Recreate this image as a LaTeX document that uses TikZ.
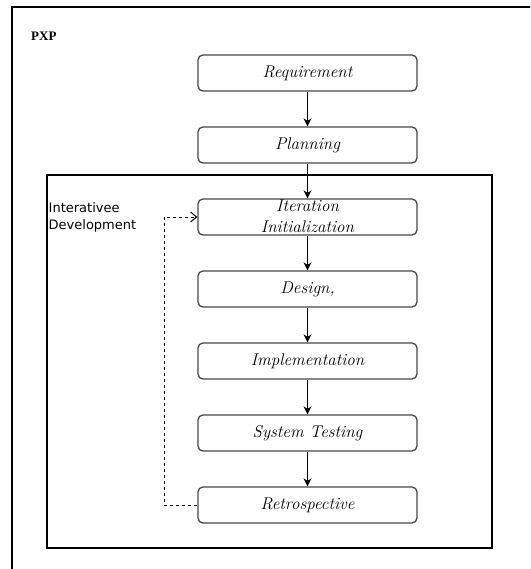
\documentclass[tikz,border=0pt]{standalone}
\usepackage{fontspec}
\newfontfamily\labelsans{DejaVu Sans}
\newfontfamily\titleserif{Liberation Serif}
\usetikzlibrary{arrows.meta}

\tikzset{
  stepbox/.style={draw=black!72, line width=1.3pt, rounded corners=5pt,
    minimum width=219pt, minimum height=36pt, inner sep=0pt,
    font=\fontsize{17}{22}\selectfont\itshape, text=black},
  flow/.style={draw=black, line width=1.2pt,
    -{Stealth[length=8pt, width=8pt, inset=2.5pt]}},
  loopback/.style={draw=black, line width=1pt, dash pattern=on 3pt off 3pt,
    -{Straight Barb[length=6pt, width=10pt, line width=1pt]}},
  frame/.style={draw=black, line width=1.3pt},
}

\begin{document}
\begin{tikzpicture}[x=1pt, y=-1pt]
  \useasboundingbox (0,0) rectangle (530,569);
  \fill[white] (0,0) rectangle (530,569);
  \begin{scope}
    \clip (0,0) rectangle (530,569);
    % outer process frame (runs past the page edges)
    \draw[frame] (12,7) rectangle (560,600);
  \end{scope}
  \node[anchor=base west, inner sep=0pt,
        font=\titleserif\bfseries\fontsize{13}{15}\selectfont] (pxp) at (31,41) {PXP};

  % iteration frame
  \draw[frame] (47,175) rectangle (492,548);
  \node[anchor=north west, inner sep=0pt, align=left,
        font=\labelsans\fontsize{13}{17}\selectfont] (iterlabel) at (48.5,202)
        {Interativee\\Development};

  % process steps
  \node[stepbox] (req)    at (307.5,73)  {Requirement};
  \node[stepbox] (plan)   at (307.5,145) {Planning};
  \node[stepbox] (iter)   at (307.5,217)
     {\raisebox{-9pt}{\smash{\begin{tabular}{@{}c@{}}Iteration\\[-1pt]Initialization\end{tabular}}}};
  \node[stepbox] (design) at (307.5,289) {Design,};
  \node[stepbox] (impl)   at (307.5,361) {Implementation};
  \node[stepbox] (test)   at (307.5,433) {System Testing};
  \node[stepbox] (retro)  at (307.5,505) {Retrospective};

  \draw[flow] (req)    -- (plan);
  \draw[flow] (plan)   -- (iter);
  \draw[flow] (iter)   -- (design);
  \draw[flow] (design) -- (impl);
  \draw[flow] (impl)   -- (test);
  \draw[flow] (test)   -- (retro);

  % feedback loop from the retrospective
  \draw[loopback] (retro.west) -- ++(-33,0) |- (iter.west);
\end{tikzpicture}
\end{document}
